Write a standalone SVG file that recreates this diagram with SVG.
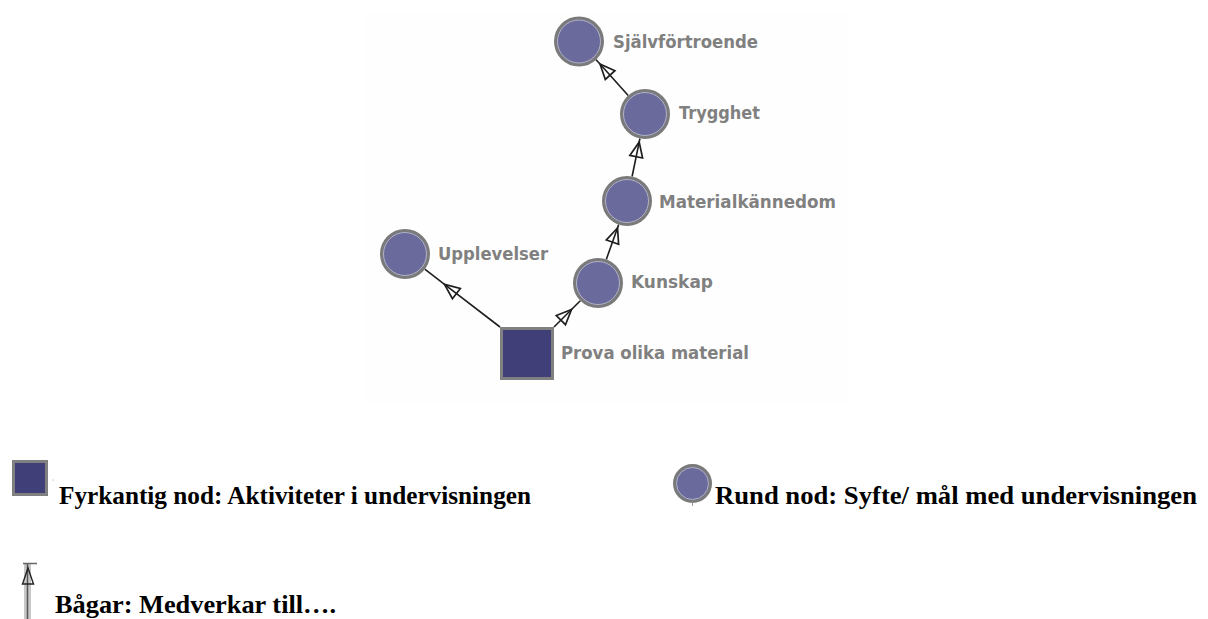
<svg xmlns="http://www.w3.org/2000/svg" width="1208" height="619" viewBox="0 0 1208 619">
<style>
.bg{fill:#fefefe}
.cnode circle.o{fill:#6a6a9c;stroke:#7a7a7a;stroke-width:3}
.cnode circle.i{fill:none;stroke:#b4b4c4;stroke-width:1}
.snode rect.o{fill:#403f78;stroke:#808080;stroke-width:3}
.lbl{font-family:"DejaVu Sans",sans-serif;font-weight:bold;font-size:18px;fill:#808080}
.edge{fill:none;stroke:#1e1e1e;stroke-width:1.6;marker-mid:url(#ah)}
.leg{font-family:"Liberation Serif","Times New Roman",serif;font-weight:bold;font-size:26px;fill:#000}
</style>
<defs>
<marker id="ah" markerUnits="userSpaceOnUse" orient="auto" refX="0" refY="0" markerWidth="20" markerHeight="16" viewBox="-17 -8 20 16" overflow="visible">
<path d="M0,0 L-15,-6.5 L-15,6.5 Z" fill="none" stroke="#1e1e1e" stroke-width="1.7" stroke-linejoin="miter"/>
</marker>
</defs>
<rect class="bg" x="366" y="13" width="483" height="390"/>
<g id="connectors">
<polyline class="edge" points="628.2,95.5 600,64 595.8,59.5"/>
<polyline class="edge" points="632.1,176.5 639.2,142 639.9,138.5"/>
<polyline class="edge" points="606.3,259.4 617.5,228 618.7,224.6"/>
<polyline class="edge" points="554,327 571.5,309.5 580.3,300.7"/>
<polyline class="edge" points="500,327 444.5,284.4 424.8,269.2"/>
</g>
<g id="node-sjalvfortroende" class="cnode">
<circle class="o" cx="579" cy="41.5" r="23.5"/><circle class="i" cx="579" cy="41.5" r="21.5"/>
<text class="lbl" x="613" y="48" textLength="145" lengthAdjust="spacingAndGlyphs">Självförtroende</text>
</g>
<g id="node-trygghet" class="cnode">
<circle class="o" cx="645" cy="114" r="23.5"/><circle class="i" cx="645" cy="114" r="21.5"/>
<text class="lbl" x="679" y="119" textLength="81" lengthAdjust="spacingAndGlyphs">Trygghet</text>
</g>
<g id="node-materialkannedom" class="cnode">
<circle class="o" cx="627" cy="201" r="23.5"/><circle class="i" cx="627" cy="201" r="21.5"/>
<text class="lbl" x="659" y="208" textLength="177" lengthAdjust="spacingAndGlyphs">Materialkännedom</text>
</g>
<g id="node-upplevelser" class="cnode">
<circle class="o" cx="405" cy="254" r="23.5"/><circle class="i" cx="405" cy="254" r="21.5"/>
<text class="lbl" x="438" y="260" textLength="110" lengthAdjust="spacingAndGlyphs">Upplevelser</text>
</g>
<g id="node-kunskap" class="cnode">
<circle class="o" cx="598" cy="283" r="23.5"/><circle class="i" cx="598" cy="283" r="21.5"/>
<text class="lbl" x="631" y="288" textLength="82" lengthAdjust="spacingAndGlyphs">Kunskap</text>
</g>
<g id="node-prova" class="snode">
<rect class="o" x="501.5" y="328.5" width="51" height="50"/>
<text class="lbl" x="561" y="359" textLength="188" lengthAdjust="spacingAndGlyphs">Prova olika material</text>
</g>
<g id="legend-square" class="snode">
<rect class="o" x="13.5" y="461.5" width="33" height="33"/>
<circle cx="53" cy="480" r="0.6" fill="#999"/>
<text class="leg" x="59" y="504" textLength="472" lengthAdjust="spacingAndGlyphs">Fyrkantig nod: Aktiviteter i undervisningen</text>
</g>
<g id="legend-circle" class="cnode">
<circle class="o" cx="692.5" cy="483.5" r="18"/><circle class="i" cx="692.5" cy="483.5" r="16"/>
<line x1="692.5" y1="502" x2="692.5" y2="506" stroke="#999" stroke-width="1"/>
<text class="leg" x="715" y="504" textLength="482" lengthAdjust="spacingAndGlyphs">Rund nod: Syfte/ mål med undervisningen</text>
</g>
<g id="legend-edge">
<rect x="24" y="564" width="7" height="55" fill="#c8c8c8"/>
<line x1="27.5" y1="564" x2="27.5" y2="619" stroke="#555" stroke-width="1.5"/>
<line x1="23" y1="563.5" x2="37" y2="563.5" stroke="#666" stroke-width="1.5"/>
<path d="M28,568 L22.5,584 L33.5,584 Z" fill="none" stroke="#222" stroke-width="1.4"/>
<text class="leg" x="55" y="613" textLength="281" lengthAdjust="spacingAndGlyphs">Bågar: Medverkar till….</text>
</g>
</svg>
